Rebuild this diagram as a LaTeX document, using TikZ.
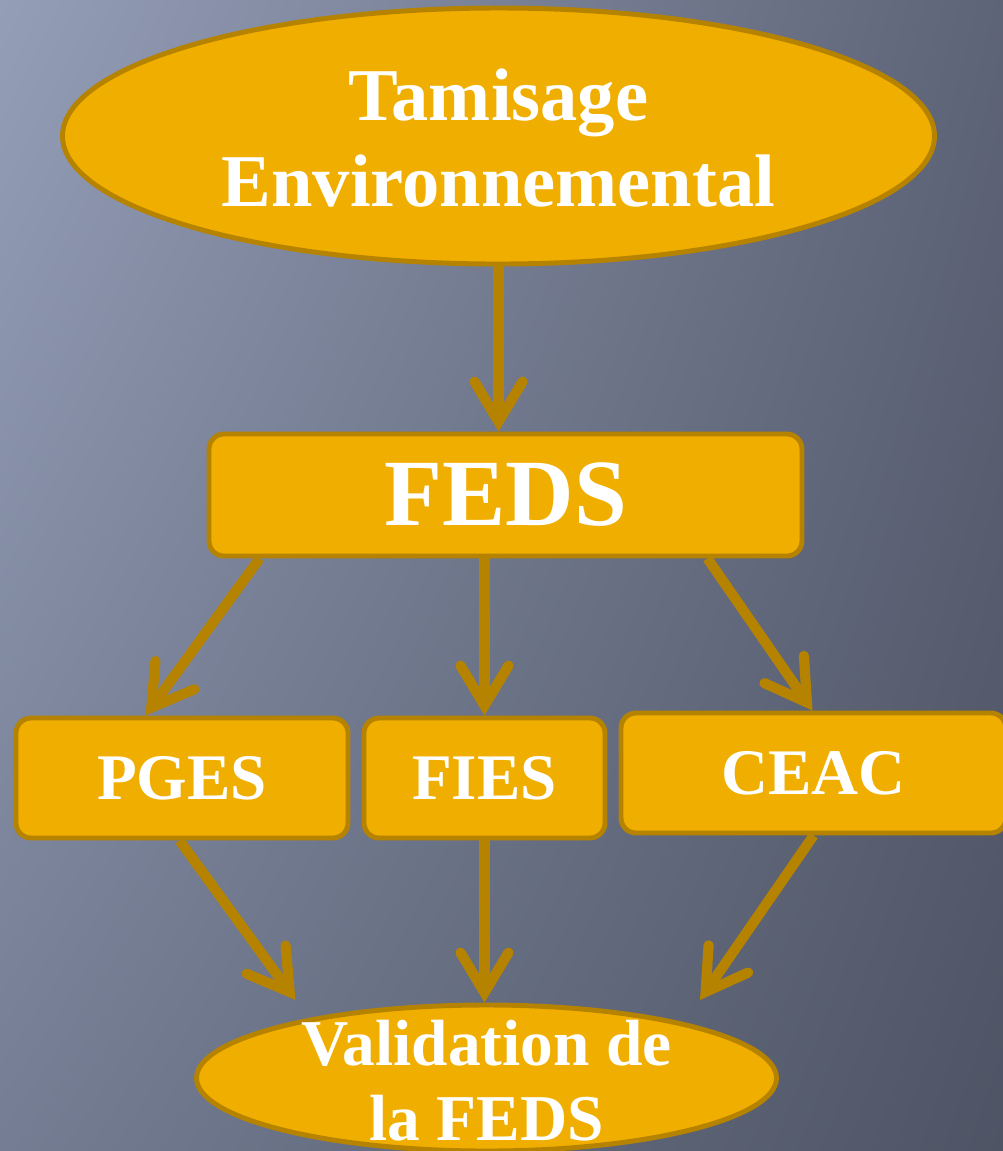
\documentclass[tikz,border=0pt]{standalone}
\usepackage{fontspec}
\setmainfont{Liberation Serif}
\usetikzlibrary{shapes.geometric,arrows.meta,shadings}
\definecolor{boxfill}{HTML}{F0AE00}
\definecolor{boxline}{HTML}{B68300}
\definecolor{bgUL}{HTML}{949EB7}
\definecolor{bgUR}{HTML}{5E6477}
\definecolor{bgLL}{HTML}{747D93}
\definecolor{bgLR}{HTML}{4E5464}

\begin{document}
\begin{tikzpicture}[
  oval/.style={ellipse,fill=boxfill,draw=boxline,line width=1.4pt,inner sep=0pt},
  box/.style={rectangle,rounded corners=4.3pt,fill=boxfill,draw=boxline,line width=1.4pt,inner sep=0pt,text=white},
  lbl/.style={text=white,align=center},
  flow/.style={draw=boxline,line width=2.9pt,-{Straight Barb[length=4mm,width=4.8mm,line cap=round]}}
]
% background
\useasboundingbox (0,0) rectangle (10.03,-11.51);
\clip (0,0) rectangle (10.03,-11.51);
\shade[upper left=bgUL,upper right=bgUR,lower left=bgLL,lower right=bgLR] (0,0) rectangle (10.03,-11.51);

% nodes
\node[oval,minimum width=8.72cm,minimum height=2.56cm] (tamis) at (4.985,-1.36) {};
\node[lbl,font=\bfseries\fontsize{21.2}{24.5}\selectfont] (tamistxt) at (4.985,-1.38) {Tamisage\\Environnemental};
\node[box,minimum width=5.93cm,minimum height=1.22cm,font=\bfseries\fontsize{27}{30}\selectfont] (feds) at (5.055,-4.95) {FEDS};
\node[box,minimum width=3.32cm,minimum height=1.2cm,font=\bfseries\fontsize{18.5}{20}\selectfont] (pges) at (1.82,-7.78) {PGES};
\node[box,minimum width=2.41cm,minimum height=1.2cm,font=\bfseries\fontsize{18.5}{20}\selectfont] (fies) at (4.845,-7.78) {FIES};
\node[box,minimum width=3.85cm,minimum height=1.2cm,font=\bfseries\fontsize{18.5}{20}\selectfont] (ceac) at (8.135,-7.73) {CEAC};
\node[oval,minimum width=5.8cm,minimum height=1.46cm] (valid) at (4.865,-10.78) {};
\node[lbl,font=\bfseries\fontsize{18.6}{21.3}\selectfont] (validtxt) at (4.865,-10.81) {Validation de\\la FEDS};

% arrows
\draw[flow] (tamis.south) -- (tamis.south |- feds.north);
\draw[flow] ([xshift=0.53cm]feds.south west) -- ([xshift=1.32cm]pges.north west);
\draw[flow] (fies.north |- feds.south) -- (fies.north);
\draw[flow] ([xshift=-0.97cm]feds.south east) -- ([xshift=1.94cm]ceac.north west);
\draw[flow] ([xshift=1.66cm]pges.south west) -- ([shift={(-1.91,0.78)}]valid.center);
\draw[flow] (fies.south) -- (fies.south |- valid.north);
\draw[flow] ([xshift=1.95cm]ceac.south west) -- ([shift={(2.135,0.78)}]valid.center);
\end{tikzpicture}
\end{document}
